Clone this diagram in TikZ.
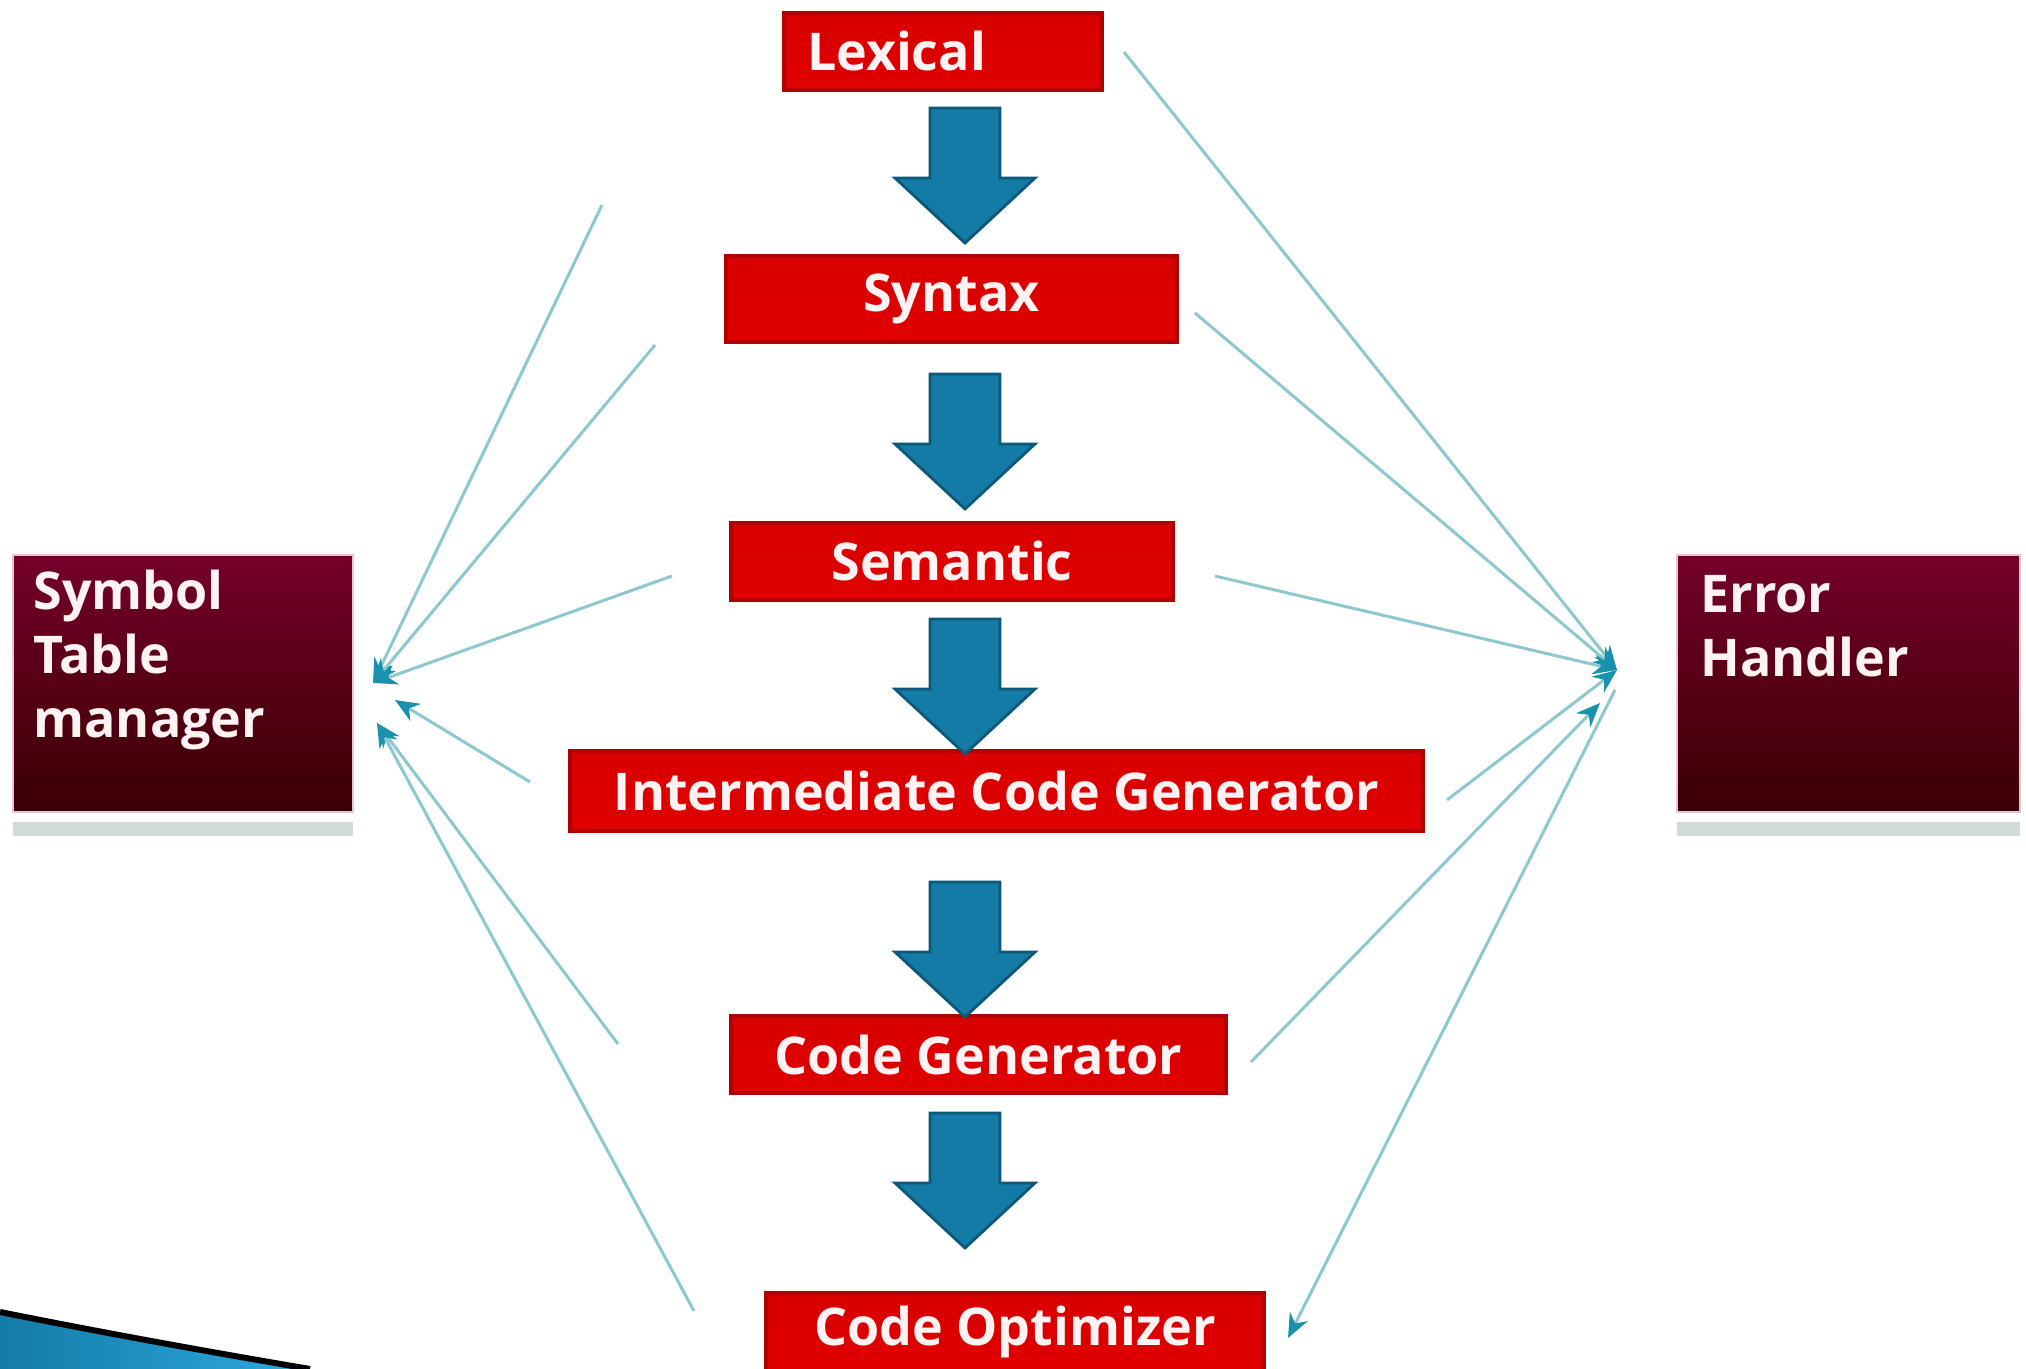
\documentclass[tikz,border=0pt]{standalone}
\usepackage{fontspec}
\setmainfont{Open Sans}
\usetikzlibrary{arrows.meta}
\definecolor{redtop}{HTML}{D80000}
\definecolor{redmid}{HTML}{FA0C0C}
\definecolor{redbot}{HTML}{E00000}
\definecolor{redline}{HTML}{B00000}
\definecolor{darktop}{HTML}{74002A}
\definecolor{darkbot}{HTML}{3A0002}
\definecolor{darkline}{HTML}{E8C4CC}
\definecolor{conncol}{HTML}{8CC8CE}
\definecolor{tipcol}{HTML}{1A92AE}
\definecolor{arrowlight}{HTML}{2EAAE0}
\definecolor{arrowdark}{HTML}{137BA6}
\definecolor{arrowline}{HTML}{0B5878}
\definecolor{paletext}{HTML}{FFF2F2}
\definecolor{reflect}{HTML}{D2DADA}
\newcommand\bluedown[2]{%
  \path[bluearrow] ({#1-35},{#2}) -- ({#1+35},{#2}) -- ({#1+35},{#2+70}) --
    ({#1+70},{#2+70}) -- ({#1},{#2+135}) -- ({#1-70},{#2+70}) --
    ({#1-35},{#2+70}) -- cycle;}
\begin{document}
\begin{tikzpicture}[x=0.5pt,y=-0.5pt,
  redbox/.style={draw=redline, line width=1.6pt, top color=redtop, middle color=redmid,
    bottom color=redbot, text=paletext, inner sep=0pt,
    font=\bfseries\fontsize{26}{32}\selectfont},
  darkbox/.style={draw=darkline, line width=0.8pt, top color=darktop, bottom color=darkbot,
    inner sep=0pt},
  sidetext/.style={text=paletext, inner sep=0pt, align=left,
    font=\bfseries\fontsize{26}{32}\selectfont},
  bluearrow/.style={draw=arrowline, line width=1.4pt, left color=arrowdark,
    middle color=arrowlight, right color=arrowdark},
  conn/.style={draw=conncol, line width=1.5pt,
    -{Stealth[length=12pt,width=10pt,color=tipcol]}},
]
\useasboundingbox (0,0) rectangle (2026,1369);
\clip (0,0) rectangle (2026,1369);
\fill[white] (0,0) rectangle (2026,1369);

% side boxes
\fill[reflect] (13,822) rectangle (353,836);
\fill[reflect] (1677,822) rectangle (2020,836);
\node[darkbox, minimum width=170pt, minimum height=128.5pt] (stm) at (183,683.5) {};
\node[sidetext, anchor=north west] (stmtxt) at (33,570) {Symbol\\Table\\manager};
\node[darkbox, minimum width=171.5pt, minimum height=128.5pt] (err) at (1848.5,683.5) {};
\node[sidetext, anchor=north west] (errtxt) at (1700,575) {Error\\Handler};

% phase boxes
\node[redbox, text width=136pt, inner xsep=11.5pt, minimum height=38.5pt, align=left]
  (lex) at (943,51.5) {Lexical};
\node[redbox, minimum width=225.5pt, minimum height=43pt] (syn) at (951.5,299) {Syntax};
\node[redbox, minimum width=221pt, minimum height=38.5pt] (sem) at (952,561.5) {Semantic};
\node[redbox, minimum width=426.5pt, minimum height=40pt] (icg) at (996.5,791)
  {Intermediate Code Generator};
\node[redbox, minimum width=247.5pt, minimum height=38.5pt] (cg) at (978.5,1054.5)
  {Code Generator};
\node[redbox, minimum width=249pt, minimum height=39pt] (co) at (1015,1332)
  {Code Optimizer};

% block arrows
\bluedown{965}{108}
\bluedown{965}{374}
\bluedown{965}{619}
\bluedown{965}{882}
\bluedown{965}{1113}

% hubs and line ends
\coordinate (lhubA) at (373,683);
\coordinate (lhubB) at (395,700);
\coordinate (lhubC) at (377,723);
\coordinate (rhubA) at (1617,670);
\coordinate (rhubB) at (1600,703);
\coordinate (l1) at (602,205);
\coordinate (l2) at (655,345);
\coordinate (l3) at (672,576);
\coordinate (l4) at (530,782);
\coordinate (l5) at (618,1044);
\coordinate (l6) at (694,1311);
\coordinate (r1) at (1124,52);
\coordinate (r2) at (1195,313);
\coordinate (r3) at (1215,576);
\coordinate (r4) at (1447,800);
\coordinate (r5) at (1251,1062);
\coordinate (r6) at (1615,690);
\coordinate (r6e) at (1288,1338);

\draw[conn] (l1) -- (lhubA);
\draw[conn] (l2) -- (lhubA);
\draw[conn] (l3) -- (lhubA);
\draw[conn] (l4) -- (lhubB);
\draw[conn] (l5) -- (lhubC);
\draw[conn] (l6) -- (lhubC);
\draw[conn] (r1) -- (rhubA);
\draw[conn] (r2) -- (rhubA);
\draw[conn] (r3) -- (rhubA);
\draw[conn] (r4) -- (rhubA);
\draw[conn] (r5) -- (rhubB);
\draw[conn] (r6) -- (r6e);

% corner swoosh
\path[left color=arrowdark, right color=arrowlight]
  (0,1312) .. controls (110,1334) and (210,1352) .. (310,1369) -- (0,1369) -- cycle;
\draw[black, line width=3pt] (0,1312) .. controls (110,1334) and (210,1352) .. (310,1369);
\end{tikzpicture}
\end{document}
